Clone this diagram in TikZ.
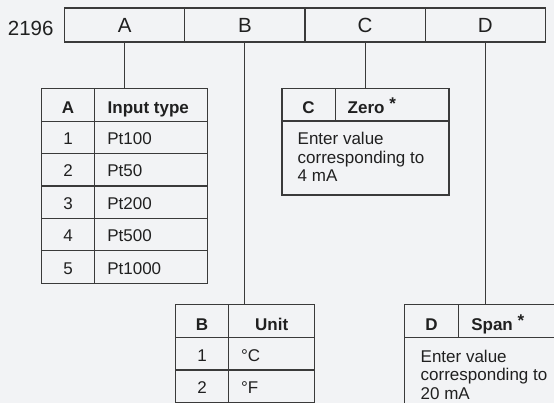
\documentclass[tikz,border=0pt]{standalone}
\usepackage{fontspec}
\setmainfont{Liberation Sans}
\definecolor{bgcol}{HTML}{F2F3F5}
\definecolor{rulecol}{HTML}{3A3A3A}
\definecolor{inkcol}{HTML}{202020}
\tikzset{
  frame/.style={draw=rulecol,line width=1.1pt,inner sep=0pt,outer sep=0pt},
  txt/.style={inner sep=0pt,outer sep=0pt,text=inkcol},
  big/.style={font=\fontsize{20.5}{20.5}\selectfont},
}
\newcommand{\starmark}{\raisebox{3.5pt}{*}}
\begin{document}
\begin{tikzpicture}[x=1pt,y=-1pt,line width=1.1pt,font=\fontsize{17}{18.5}\selectfont]
	\fill[bgcol](0,0)rectangle(554,403);
	\useasboundingbox(0,0)rectangle(554,403);
	\clip(0,0)rectangle(554,403);
	% order code bar
	\foreach\l[count=\i] in {A,B,C,D}{%
	\node[frame,big,text=inkcol,minimum width=120.2pt,minimum height=34pt,anchor=north west](bar\l)at({64.6+120.2*(\i-1)},8){\l};}
	\node[txt,big,anchor=base east](code)at(53.5,36){2196};
	% A: input type
	\node[frame,minimum width=166pt,minimum height=194.6pt,anchor=north west](tabA)at(41.7,88.7){};
	\draw[rulecol]([xshift=52.6pt]tabA.north west)--([xshift=52.6pt]tabA.south west);
	\foreach\k in {1,...,5}{%
	\draw[rulecol]([yshift=-\k*32.43pt]tabA.north west)--([yshift=-\k*32.43pt]tabA.north east);}
	\node[txt,anchor=base](hA)at([xshift=26.3pt,yshift=-24.6pt]tabA.north west){\textbf{A}};
	\node[txt,anchor=base west](hAt)at([xshift=66pt,yshift=-24.6pt]tabA.north west){\textbf{Input type}};
	\foreach\n/\t[count=\k] in {1/Pt100,2/Pt50,3/Pt200,4/Pt500,5/Pt1000}{%
	\node[txt,anchor=base](numA\k)at([xshift=26.3pt,yshift=-23.4pt-\k*32.43pt]tabA.north west){\n};
	\node[txt,anchor=base west](valA\k)at([xshift=65.6pt,yshift=-23.4pt-\k*32.43pt]tabA.north west){\t};}
	% B: unit
	\node[frame,minimum width=139.4pt,minimum height=98pt,anchor=north west](tabB)at(175.3,304.7){};
	\draw[rulecol]([xshift=53.4pt]tabB.north west)--([xshift=53.4pt]tabB.south west);
	\foreach\k in {1,2}{%
	\draw[rulecol]([yshift=-\k*32.65pt]tabB.north west)--([yshift=-\k*32.65pt]tabB.north east);}
	\node[txt,anchor=base](hB)at([xshift=26.7pt,yshift=-25.3pt]tabB.north west){\textbf{B}};
	\node[txt,anchor=base](hBt)at([xshift=96.4pt,yshift=-25.3pt]tabB.north west){\textbf{Unit}};
	\foreach\n/\t[count=\k] in {1/°C,2/°F}{%
	\node[txt,anchor=base](numB\k)at([xshift=26.7pt,yshift=-23.8pt-\k*32.65pt]tabB.north west){\n};
	\node[txt,anchor=base west](valB\k)at([xshift=65.7pt,yshift=-23.8pt-\k*32.65pt]tabB.north west){\t};}
	% C: zero
	\node[frame,minimum width=167pt,minimum height=106.7pt,anchor=north west](tabC)at(282,88.3){};
	\draw[rulecol]([yshift=-32.7pt]tabC.north west)--([yshift=-32.7pt]tabC.north east);
	\draw[rulecol]([xshift=53.3pt]tabC.north west)--([xshift=53.3pt,yshift=-32.7pt]tabC.north west);
	\node[txt,anchor=base](hC)at([xshift=26.6pt,yshift=-25pt]tabC.north west){\textbf{C}};
	\node[txt,anchor=base west](hCt)at([xshift=65.7pt,yshift=-25pt]tabC.north west){\textbf{Zero \starmark}};
	\foreach\s[count=\k] in {Enter value,corresponding to,4 mA}{%
	\node[txt,anchor=base west](lnC\k)at([xshift=15.7pt,yshift=-38.2pt-\k*18.5pt]tabC.north west){\s};}
	% D: span
	\node[frame,minimum width=162pt,minimum height=120pt,anchor=north west](tabD)at(404.7,304.7){};
	\draw[rulecol]([yshift=-33pt]tabD.north west)--([yshift=-33pt]tabD.north east);
	\draw[rulecol]([xshift=53.6pt]tabD.north west)--([xshift=53.6pt,yshift=-33pt]tabD.north west);
	\node[txt,anchor=base](hD)at([xshift=26.8pt,yshift=-25.3pt]tabD.north west){\textbf{D}};
	\node[txt,anchor=base west](hDt)at([xshift=66.6pt,yshift=-25.3pt]tabD.north west){\textbf{Span \starmark}};
	\foreach\s[count=\k] in {Enter value,corresponding to,20 mA}{%
	\node[txt,anchor=base west](lnD\k)at([xshift=16pt,yshift=-39.5pt-\k*18.3pt]tabD.north west){\s};}
	% leaders
	\foreach\l in {A,B,C,D}{\draw[rulecol](bar\l.south)--(bar\l.south|-tab\l.north);}
\end{tikzpicture}
\end{document}
